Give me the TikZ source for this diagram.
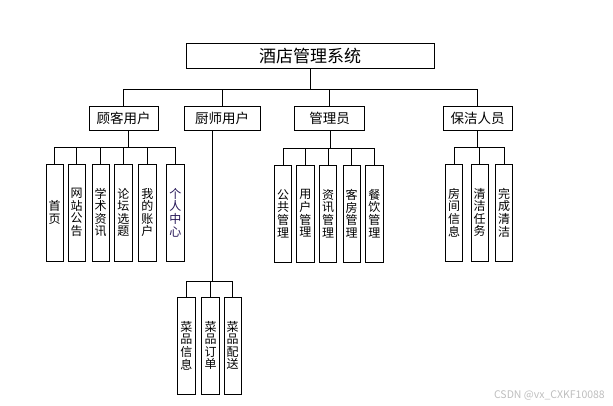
\documentclass[tikz,border=0pt]{standalone}
\usepackage{fontspec}
\setmainfont{Noto Sans CJK SC}
\usetikzlibrary{calc}
\definecolor{darkpurple}{RGB}{35,20,85}
\definecolor{wm}{RGB}{190,190,190}
\tikzset{
  line/.style={draw=black, line width=0.9pt},
  topbox/.style={draw=black, line width=0.9pt, minimum width=248pt, minimum height=25pt, inner sep=0pt, font=\fontsize{17}{17}\selectfont},
  midbox/.style={draw=black, line width=0.9pt, minimum height=24pt, inner sep=0pt, font=\fontsize{13.5}{13.5}\selectfont},
  leaf/.style={draw=black, line width=0.9pt, minimum width=17.3pt, minimum height=97pt, inner sep=0pt, align=center, font=\fontsize{12}{12.6}\selectfont}
}
\begin{document}
\begin{tikzpicture}[x=1pt,y=-1pt]
\useasboundingbox (0,0) rectangle (613,406);
% top
\node[topbox] (top) at (310,55.8) {酒店管理系统};
% level 2
\node[midbox, minimum width=69pt] (g1) at (123.5,118) {顾客用户};
\node[midbox, minimum width=76pt] (g2) at (222,118) {厨师用户};
\node[midbox, minimum width=70pt] (g3) at (329.5,118) {管理员};
\node[midbox, minimum width=69pt] (g4) at (477.5,118) {保洁人员};
\coordinate (busA) at (0,89);
\draw[line] (top.south) -- (top.south |- busA);
\draw[line] (g1.north |- busA) -- (g4.north |- busA);
\foreach \n in {g1,g2,g3,g4} \draw[line] (\n.north) -- (\n.north |- busA);
% customer leaves
\node[leaf] (c1) at (54.7,212.5) {首\\页};
\node[leaf] (c2) at (76.7,212.5) {网\\站\\公\\告};
\node[leaf] (c3) at (100.7,212.5) {学\\术\\资\\讯};
\node[leaf] (c4) at (123.3,212.5) {论\\坛\\选\\题};
\node[leaf] (c5) at (147.3,212.5) {我\\的\\账\\户};
\node[leaf] (c6) at (175.3,212.5) {\color{darkpurple}个\\\color{darkpurple}人\\\color{darkpurple}中\\\color{darkpurple}心};
\coordinate (g1d) at ($(g1.south)+(5.2,0)$);
\coordinate (busC) at (0,147);
\draw[line] (g1d) -- (g1d |- busC);
\draw[line] (c1.north |- busC) -- (c6.north |- busC);
\foreach \n in {c1,c2,c3,c4,c5,c6} \draw[line] (\n.north) -- (\n.north |- busC);
% admin leaves
\node[leaf] (a1) at (283,213.5) {公\\共\\管\\理};
\node[leaf] (a2) at (305.3,213.5) {用\\户\\管\\理};
\node[leaf] (a3) at (328,213.5) {资\\讯\\管\\理};
\node[leaf] (a4) at (351.7,213.5) {客\\房\\管\\理};
\node[leaf] (a5) at (374.3,213.5) {餐\\饮\\管\\理};
\coordinate (g3d) at ($(g3.south)+(1,0)$);
\coordinate (busM) at (0,148);
\draw[line] (g3d) -- (g3d |- busM);
\draw[line] (a1.north |- busM) -- (a5.north |- busM);
\foreach \n in {a1,a2,a3,a4,a5} \draw[line] (\n.north) -- (\n.north |- busM);
% cleaner leaves
\node[leaf] (q1) at (454,212.5) {房\\间\\信\\息};
\node[leaf] (q2) at (479.7,212.5) {清\\洁\\任\\务};
\node[leaf] (q3) at (504,212.5) {完\\成\\清\\洁};
\coordinate (busQ) at (0,147);
\draw[line] (g4.south) -- (g4.south |- busQ);
\draw[line] (q1.north |- busQ) -- (q3.north |- busQ);
\foreach \n in {q1,q2,q3} \draw[line] (\n.north) -- (\n.north |- busQ);
% chef leaves
\node[leaf] (k1) at (186.3,345.5) {菜\\品\\信\\息};
\node[leaf] (k2) at (210.5,345.5) {菜\\品\\订\\单};
\node[leaf] (k3) at (232.7,345.5) {菜\\品\\配\\送};
\coordinate (g2d) at ($(g2.south)+(-9.8,0)$);
\coordinate (busK) at (0,281);
\draw[line] (g2d) -- (g2d |- busK);
\draw[line] (k1.north |- busK) -- (k3.north |- busK);
\foreach \n in {k1,k2,k3} \draw[line] (\n.north) -- (\n.north |- busK);
% watermark
\node[anchor=east, inner sep=0pt, text=wm, font=\fontsize{10.5}{10.5}\selectfont] (wmk) at (605,395) {CSDN @vx\_CXKF10088};
\end{tikzpicture}
\end{document}
